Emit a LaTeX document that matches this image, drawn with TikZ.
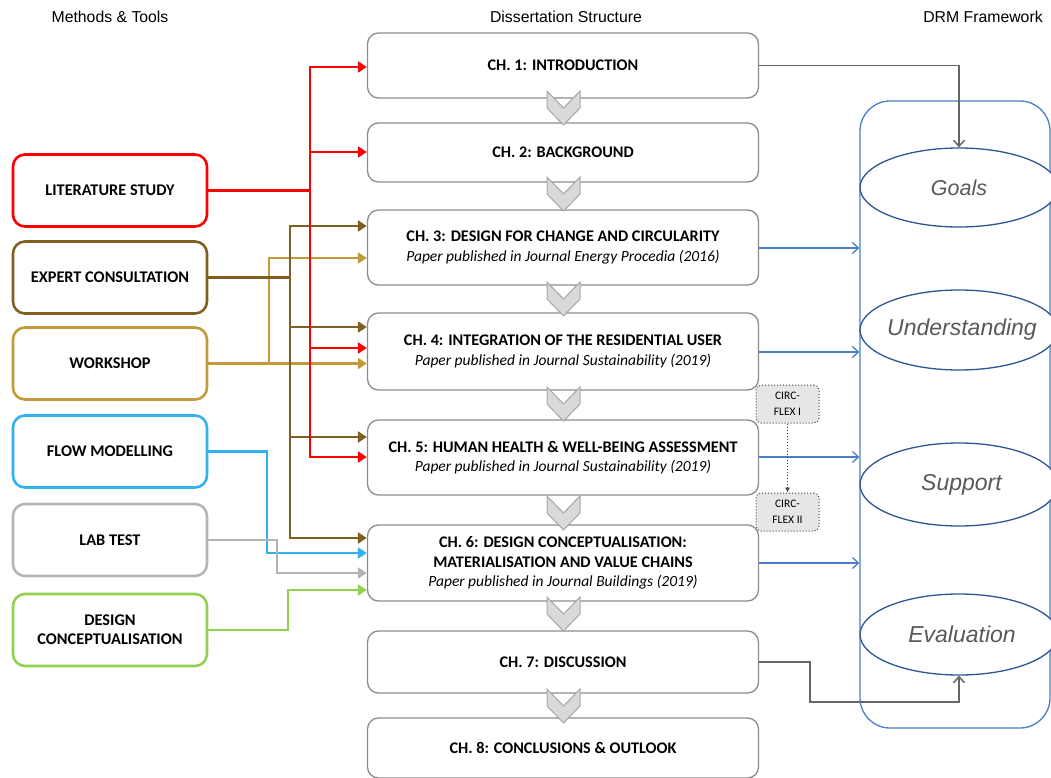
\documentclass[tikz,border=0pt]{standalone}
\usepackage{fontspec}
\setmainfont{Carlito}
\newfontfamily\arialfont{Liberation Sans}
\usetikzlibrary{arrows.meta,shapes.geometric}
\definecolor{cred}{HTML}{FF0000}
\definecolor{cbrown}{HTML}{7F6020}
\definecolor{cgold}{HTML}{C39A3A}
\definecolor{cblue}{HTML}{33B0F0}
\definecolor{clgray}{HTML}{B4B4B4}
\definecolor{cgreen}{HTML}{92D050}
\definecolor{chapgray}{HTML}{8C8C8C}
\definecolor{chevfill}{HTML}{D9D9D9}
\definecolor{chevdraw}{HTML}{A6A6A6}
\definecolor{drmblue}{HTML}{4A7EC8}
\definecolor{ellblue}{HTML}{2F5597}
\definecolor{elltext}{HTML}{595959}
\definecolor{conngray}{HTML}{666666}
\definecolor{circfill}{HTML}{E7E6E6}
\newcommand{\tb}[1]{{\fontsize{16.2}{19.5}\selectfont\bfseries #1}}
\tikzset{
  method/.style={draw, line width=2.6pt, rounded corners=12pt, minimum width=194pt,
    minimum height=72pt, align=center, fill=white,
    font=\bfseries\fontsize{16.3}{19}\selectfont},
  chap/.style={draw=chapgray, line width=1.3pt, rounded corners=11pt, minimum width=391pt,
    align=center, fill=white, font=\fontsize{15.5}{19.5}\selectfont},
  hdr/.style={font=\arialfont\fontsize{15.8}{18}\selectfont},
  ell/.style={ellipse, draw=ellblue, line width=1.3pt, fill=white, text=elltext, inner sep=0pt,
    font=\arialfont\itshape\fontsize{23}{27}\selectfont},
  conn/.style={line width=2.8pt, -{Triangle[length=9pt,width=11pt]}},
  drmarrow/.style={draw=drmblue, line width=1.3pt, -{Straight Barb[length=6pt,width=11pt]}},
  grayarrow/.style={draw=conngray, line width=1.5pt, -{Straight Barb[length=6pt,width=11pt]}},
  circ/.style={draw=black!75, dotted, line width=1pt, fill=circfill, rounded corners=5pt,
    minimum width=63pt, minimum height=38pt, align=center,
    font=\fontsize{11.5}{16}\selectfont},
  chev/.pic={\draw[fill=chevfill, draw=chevdraw, line width=1pt]
    (-16.5,0) -- (0,17) -- (16.5,0) -- (16.5,17) -- (0,34) -- (-16.5,17) -- cycle;}
}
\begin{document}
\begin{tikzpicture}[x=1pt,y=-1pt]
\useasboundingbox (0,0) rectangle (1051,778);
\clip (0,0) rectangle (1051,778);
% headers
\node[hdr] (h1) at (110,17) {Methods \& Tools};
\node[hdr] (h2) at (566,17) {Dissertation Structure};
\node[hdr] (h3) at (983,17) {DRM Framework};
% DRM frame
\node[draw=drmblue, line width=1.3pt, rounded corners=30pt, minimum width=190pt,
  minimum height=627pt] (drm) at (955,414.5) {};
\node[ell, minimum width=198pt, minimum height=79pt] (goals) at (959,187.5) {\makebox[0pt]{\fontsize{21.5}{25}\selectfont Goals}};
\node[ell, minimum width=198pt, minimum height=80pt] (under) at (959,330) {\makebox[0pt]{\hspace{6pt}Understanding}};
\node[ell, minimum width=198pt, minimum height=83pt] (supp) at (959,484.5) {\makebox[0pt]{\hspace{5pt}Support}};
\node[ell, minimum width=198pt, minimum height=81pt] (eval) at (959,634.5) {\makebox[0pt]{\hspace{6pt}Evaluation}};
% chapters
\node[chap, minimum height=65pt] (c1) at (563,65.5) {\tb{CH. 1: INTRODUCTION}};
\node[chap, minimum height=59pt] (c2) at (563,152.5) {\tb{CH. 2: BACKGROUND}};
\node[chap, minimum height=75pt] (c3) at (563,247.5) {\tb{CH. 3: DESIGN FOR CHANGE AND CIRCULARITY}\\\textit{Paper published in Journal Energy Procedia (2016)}};
\node[chap, minimum height=77pt] (c4) at (563,351.5) {\tb{CH. 4: INTEGRATION OF THE RESIDENTIAL USER}\\\textit{Paper published in Journal Sustainability (2019)}};
\node[chap, minimum height=75pt] (c5) at (563,457.5) {\tb{CH. 5: HUMAN HEALTH \& WELL-BEING ASSESSMENT}\\\textit{Paper published in Journal Sustainability (2019)}};
\node[chap, minimum height=76pt] (c6) at (563,563) {\tb{CH. 6: DESIGN CONCEPTUALISATION:}\\\tb{MATERIALISATION AND VALUE CHAINS}\\\textit{Paper published in Journal Buildings (2019)}};
\node[chap, minimum height=62pt] (c7) at (563,662) {\tb{CH. 7: DISCUSSION}};
\node[chap, minimum height=60pt] (c8) at (563,748) {\tb{CH. 8: CONCLUSIONS \& OUTLOOK}};
% chevrons
\foreach \t in {91,177,282,387,496,597,689} {\pic at (563.5,\t) {chev};}
% methods
\node[method, draw=cred] (lit) at (110,190.5) {LITERATURE STUDY};
\node[method, draw=cbrown] (exp) at (110,277.5) {EXPERT CONSULTATION};
\node[method, draw=cgold] (work) at (110,363.5) {WORKSHOP};
\node[method, draw=cblue] (flow) at (110,451.5) {FLOW MODELLING};
\node[method, draw=clgray] (lab) at (110,540) {LAB TEST};
\node[method, draw=cgreen] (des) at (110,630) {DESIGN\\CONCEPTUALISATION};
% workshop connectors
\draw[conn, draw=cgold, -] (work.east) -- (269,363.5);
\draw[conn, draw=cgold] (269,363.5) |- (c3.west |- 0,258);
\draw[conn, draw=cgold] (work.east) -- (c4.west |- work.east);
% expert connectors
\draw[conn, draw=cbrown] (exp.east) -| (290,226) -- (c3.west |- 0,226);
\draw[conn, draw=cbrown] (290,277.5) |- (c4.west |- 0,327);
\draw[conn, draw=cbrown] (290,277.5) |- (c5.west |- 0,437);
\draw[conn, draw=cbrown] (290,277.5) |- (c6.west |- 0,538);
% literature connectors
\draw[conn, draw=cred] (lit.east) -| (310,67) -- (c1.west |- 0,67);
\draw[conn, draw=cred] (310,190.5) |- (c2.west |- 0,152);
\draw[conn, draw=cred] (310,190.5) |- (c4.west |- 0,348);
\draw[conn, draw=cred] (310,190.5) |- (c5.west |- 0,457);
% other methods
\draw[conn, draw=cblue] (flow.east) -| (267,553) -- (c6.west |- 0,553);
\draw[conn, draw=clgray] (lab.east) -| (277,573) -- (c6.west |- 0,573);
\draw[conn, draw=cgreen] (des.east) -| (288,590) -- (c6.west |- 0,590);
% to DRM
\draw[drmarrow] (c3.east |- 0,248) -- (drm.west |- 0,248);
\draw[drmarrow] (c4.east |- 0,352) -- (drm.west |- 0,352);
\draw[drmarrow] (c5.east |- 0,457) -- (drm.west |- 0,457);
\draw[drmarrow] (c6.east |- 0,563) -- (drm.west |- 0,563);
\draw[grayarrow] (c1.east) -| (goals.north);
\coordinate (k7) at (810,702);
\draw[grayarrow] (c7.east) -| (k7) -| (eval.south);
% circ-flex
\node[circ] (cf1) at (787.5,404) {CIRC-\\FLEX I};
\node[circ] (cf2) at (787.5,512) {CIRC-\\FLEX II};
\draw[black!75, dotted, line width=1pt, -{Latex[length=5pt,width=5pt]}] (cf1.south) -- (cf2.north);
\end{tikzpicture}
\end{document}
